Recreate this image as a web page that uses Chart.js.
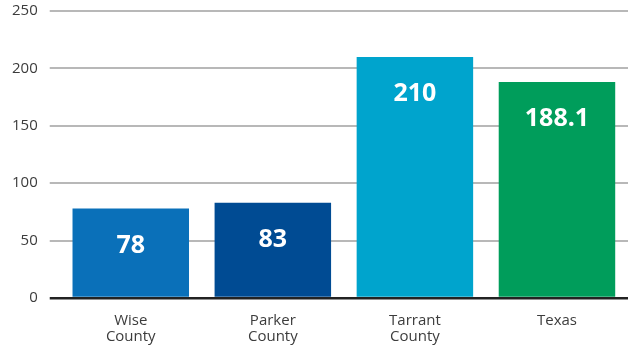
<!DOCTYPE html>
<html>
<head>
<meta charset="utf-8">
<script src="https://cdn.jsdelivr.net/npm/chart.js@4.4.0/dist/chart.umd.min.js"></script>
<style>
  html, body { margin: 0; padding: 0; background: #fff; }
</style>
</head>
<body>
<canvas id="myBarChart" width="632" height="348"></canvas>
<script>
var categories = [['Wise', 'County'], ['Parker', 'County'], ['Tarrant', 'County'], 'Texas'];
var values = [78, 83, 210, 188.1];
var valueLabels = ['78', '83', '210', '188.1'];
var barColors = ['#0a70b9', '#004b93', '#00a4cd', '#009d5b'];
var yTicks = [0, 50, 100, 150, 200, 250];

// white value labels inside the bars
var barLabels = {
    id: 'barLabels',
    afterDatasetsDraw: function(chart) {
        var ctx = chart.ctx;
        var meta = chart.getDatasetMeta(0);
        ctx.save();
        ctx.fillStyle = '#ffffff';
        ctx.font = 'bold 25px "Open Sans"';
        ctx.textAlign = 'center';
        ctx.textBaseline = 'middle';
        meta.data.forEach(function(bar, i) {
            ctx.fillText(valueLabels[i], bar.x, bar.y + 37);
        });
        ctx.restore();
    }
};

var ctx = document.getElementById('myBarChart').getContext('2d');
var myChart = new Chart(ctx, {
    type: 'bar',
    data: {
        labels: categories,
        datasets: [{
            data: values,
            backgroundColor: barColors,
            barPercentage: 0.82,
            categoryPercentage: 1.0
        }]
    },
    options: {
        responsive: false,
        animation: false,
        layout: {
            padding: { top: 11, right: 4, left: 0, bottom: -11 }
        },
        plugins: {
            legend: { display: false },
            tooltip: { enabled: false }
        },
        scales: {
            x: {
                grid: { display: false, drawTicks: false },
                border: { display: false },
                ticks: {
                    color: '#3c3c3c',
                    padding: 14,
                    font: { family: 'Open Sans', size: 15, lineHeight: 1.1 }
                }
            },
            y: {
                min: 0,
                max: 250,
                afterBuildTicks: function(axis) {
                    axis.ticks = yTicks.map(function(v) { return { value: v }; });
                },
                afterFit: function(axis) {
                    axis.paddingTop = 0;
                },
                grid: {
                    color: function(c) { return c.tick.value === 0 ? '#222' : '#b8b8b8'; },
                    lineWidth: function(c) { return c.tick.value === 0 ? 2.5 : 2; },
                    tickLength: 10
                },
                border: { display: false },
                ticks: {
                    color: '#3c3c3c',
                    padding: 12,
                    font: { family: 'Open Sans', size: 15 }
                }
            }
        }
    },
    plugins: [barLabels]
});
</script>
</body>
</html>
